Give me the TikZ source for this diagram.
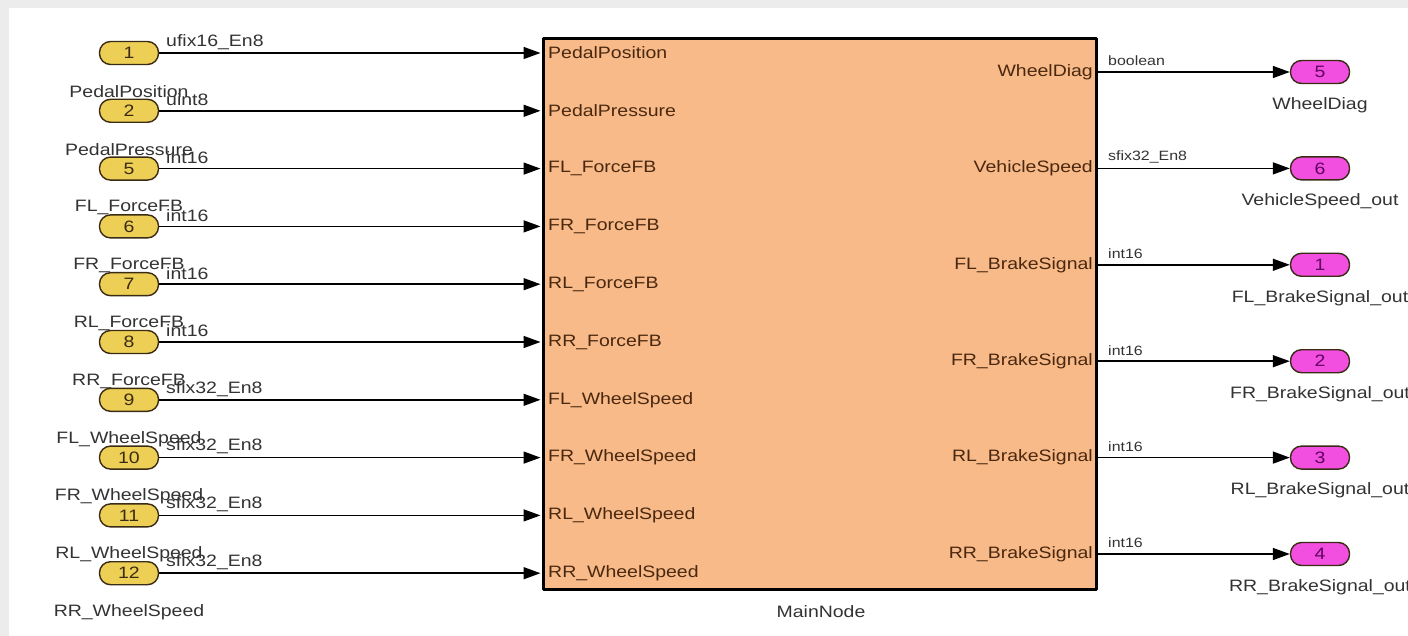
\documentclass[tikz,border=0pt]{standalone}
\usepackage{fontspec}
\setmainfont{Liberation Sans}[FakeStretch=1.18]
\usetikzlibrary{arrows.meta,positioning,calc}
\definecolor{inyel}{HTML}{EDCF55}
\definecolor{outmag}{HTML}{F24FE0}
\definecolor{blkfill}{HTML}{F7BA88}
\definecolor{blktxt}{HTML}{4A2810}
\definecolor{lbl}{HTML}{333333}
\definecolor{pinedge}{HTML}{3A2C14}
\tikzset{
	inport/.style={draw=pinedge, line width=1.4pt, fill=inyel, rounded corners=11pt,
		minimum width=59pt, minimum height=23pt, inner sep=0pt, text=pinedge},
	outport/.style={inport, fill=outmag, text=violet!75!black},
	sig/.style={line width=1.5pt, -{Triangle[length=17pt,width=12pt]}},
	big/.style={font=\fontsize{16.5}{18}\selectfont},
	small/.style={font=\fontsize{13.5}{15}\selectfont},
}
\begin{document}
\begin{tikzpicture}[x=1pt, y=-1pt, big, line join=round]
				\fill[gray!15] (0,0) rectangle (1408,636);
				\fill[white] (9,8) rectangle (1408,636);
				\useasboundingbox (0,0) rectangle (1408,636);
				\node[draw, line width=3pt, fill=blkfill, minimum width=553pt,
					minimum height=551pt, inner sep=0pt] (blk) at (820,314) {};
				\node[text=lbl] (mname) at (821,612) {MainNode};
				% inputs
				\foreach \n/\pn/\ty [count=\i from 0] in {1/PedalPosition/ufix16\_En8,
					2/PedalPressure/uint8, 5/FL\_ForceFB/int16, 6/FR\_ForceFB/int16,
					7/RL\_ForceFB/int16, 8/RR\_ForceFB/int16, 9/FL\_WheelSpeed/sfix32\_En8,
					10/FR\_WheelSpeed/sfix32\_En8, 11/RL\_WheelSpeed/sfix32\_En8,
					12/RR\_WheelSpeed/sfix32\_En8}{
					\pgfmathsetmacro\yy{53+57.8*\i}
					\node[inport] (in\i) at (129,\yy) {\n};
					\coordinate (bi\i) at (blk.west |- in\i);
					\node[text=lbl] (inl\i) at (129,\yy+39) {\pn};
					\node[anchor=west, inner sep=0pt, text=lbl] (int\i) at (166,\yy-11) {\ty};
					\node[anchor=west, inner sep=0pt, text=blktxt] (bil\i) at (548,\yy) {\pn};
					\draw[sig, shorten >=1.5pt] (in\i.east) -- (bi\i);
				}
				% outputs
				\foreach \n/\pn/\on/\ty [count=\j from 0] in {5/WheelDiag/WheelDiag/boolean,
					6/VehicleSpeed/VehicleSpeed\_out/sfix32\_En8,
					1/FL\_BrakeSignal/FL\_BrakeSignal\_out/int16,
					2/FR\_BrakeSignal/FR\_BrakeSignal\_out/int16,
					3/RL\_BrakeSignal/RL\_BrakeSignal\_out/int16,
					4/RR\_BrakeSignal/RR\_BrakeSignal\_out/int16}{
					\pgfmathsetmacro\yy{72+96.4*\j}
					\node[outport] (out\j) at (1320,\yy) {\n};
					\coordinate (bo\j) at (blk.east |- out\j);
					\node[text=lbl] (outl\j) at (1320,\yy+33) {\on};
					\node[small, anchor=west, inner sep=0pt, text=lbl] (outt\j) at (1108,\yy-11) {\ty};
					\node[anchor=east, inner sep=0pt, text=blktxt] (bol\j) at (1093,\yy) {\pn};
					\draw[sig] (bo\j) -- (out\j.west);
				}
\end{tikzpicture}
\end{document}
